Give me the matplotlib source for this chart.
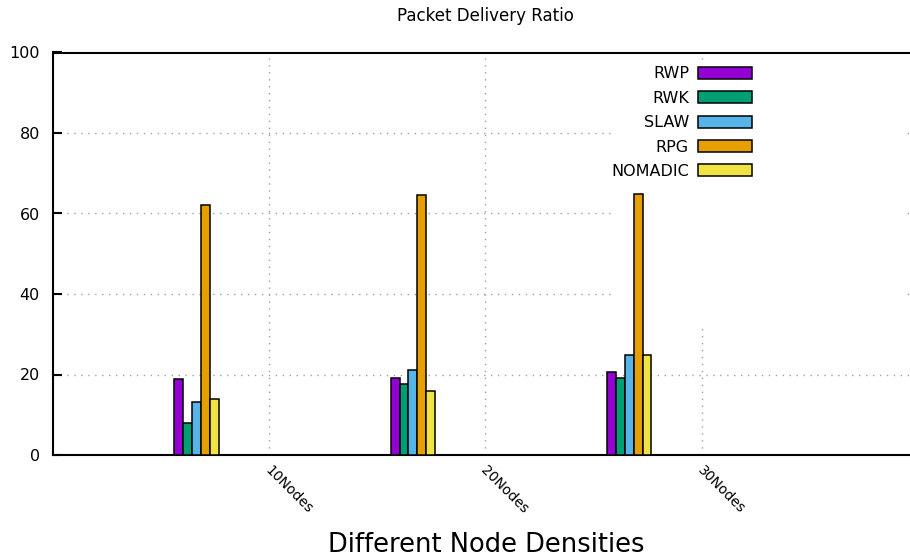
import matplotlib
matplotlib.use("Agg")
import matplotlib.pyplot as plt
import matplotlib.transforms as mtransforms
from matplotlib.patches import Rectangle, Patch
import numpy as np

plt.rcParams['font.family'] = ['DejaVu Sans']

categories = ["10Nodes", "20Nodes", "30Nodes"]
series_names = ["RWP", "RWK", "SLAW", "RPG", "NOMADIC"]
rwp = [18.8, 19.1, 20.6]
rwk = [7.9, 17.6, 19.1]
slaw = [13.2, 21.1, 24.8]
rpg = [62.0, 64.6, 64.9]
nomadic = [13.9, 15.8, 24.8]
series_values = [rwp, rwk, slaw, rpg, nomadic]
colors = ["#9400d3", "#009e73", "#56b4e9", "#e69f00", "#f0e442"]
yticks = [0, 20, 40, 60, 80, 100]

W, H = 910, 560
fig = plt.figure(figsize=(W / 100, H / 100), dpi=100)
ax_l, ax_r, ax_t, ax_b = 52.5, 918, 52.5, 455
ax = fig.add_axes([ax_l / W, 1 - ax_b / H, (ax_r - ax_l) / W, (ax_b - ax_t) / H])
ax.set_xlim(-1, 3)
ax.set_ylim(0, 100)

# grid
grid_kw = dict(color="#a0a0a0", lw=1.0, dashes=(1, 4), zorder=1)
for yv in yticks[1:-1]:
    ax.axhline(yv, **grid_kw)
x = np.arange(len(categories))
for xv in x:
    ax.axvline(xv, ymin=0, ymax=0.99, **grid_kw)

# opaque key area
ax.add_patch(Rectangle((1.59, 31.8), 1.35, 65.8, facecolor="white",
                       edgecolor="none", zorder=2))

# bars
bw = 0.041
start = -0.437
for j, (vals, c) in enumerate(zip(series_values, colors)):
    ax.bar(x + start + (j + 0.5) * bw, vals, width=bw, color=c,
           edgecolor="black", linewidth=1.1, zorder=3)

ax.set_yticks(yticks)
ax.set_yticklabels([str(v) for v in yticks], fontsize=11.5)
ax.tick_params(axis="y", direction="in", length=6.5, width=1.5, pad=9,
               right=False)
ax.set_xticks(x)
ax.set_xticklabels(categories, fontsize=10, rotation=-45, ha="left",
                   va="top", rotation_mode="anchor")
ax.tick_params(axis="x", length=0, pad=6)
offset = mtransforms.ScaledTranslation(3 / 100, 0, fig.dpi_scale_trans)
for lbl in ax.get_xticklabels():
    lbl.set_transform(lbl.get_transform() + offset)

for s in ["left", "bottom", "top", "right"]:
    ax.spines[s].set_linewidth(1.5)

# legend
handles = [Patch(facecolor=c, edgecolor="black", linewidth=1.1) for c in colors]
leg = ax.legend(handles, series_names, loc="upper right",
                bbox_to_anchor=(752 / W, 1 - 66.5 / H),
                bbox_transform=fig.transFigure, frameon=False,
                markerfirst=False, fontsize=11.5, handlelength=3.4,
                handleheight=0.8, handletextpad=0.55, labelspacing=0.585,
                borderpad=0, borderaxespad=0)
leg.set_zorder(5)

fig.text(485 / W, 1 - 16 / H, "Packet Delivery Ratio", fontsize=12,
         ha="center", va="center")
fig.text(486 / W, 1 - 551.5 / H, "Different Node Densities", fontsize=18.5,
         ha="center", va="baseline")

fig.savefig("out.png", dpi=100)
